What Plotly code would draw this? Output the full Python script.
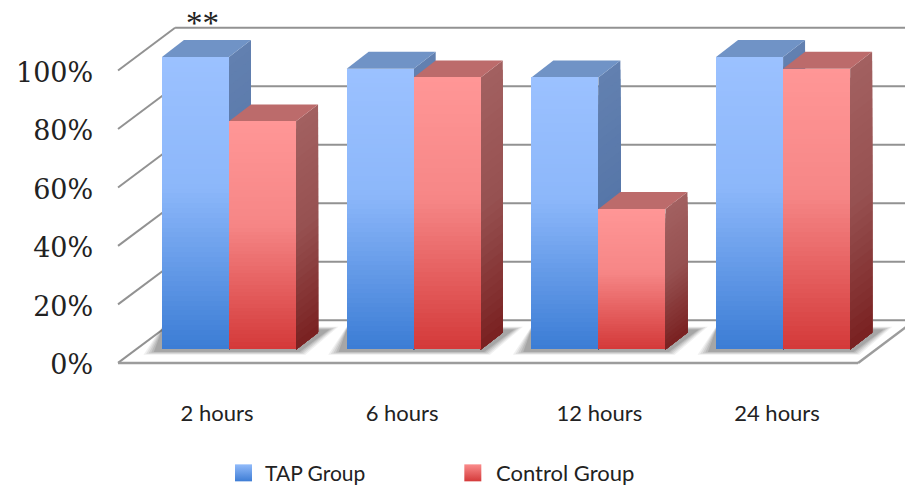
import plotly.graph_objects as go

# Data
groups = ["2 hours", "6 hours", "12 hours", "24 hours"]
group_pos = [0, 1, 2, 3]
label_pos = [-0.065, -0.063, 0.005, -0.033]
tap_values = [100, 96, 93, 100]
control_values = [78, 93, 48, 96]
y_ticks = [0, 20, 40, 60, 80, 100]
y_tick_text = ["0%", "20%", "40%", "60%", "80%", "100%"]

# Pseudo-3D projection, in axis units
BAR_W = 0.363
DX, DY = 0.119, 5.8          # bar depth
WALL_DX, WALL_DY = 0.309, 14.6
FLOOR_X0, FLOOR_X1 = -0.601, 3.406
FLOOR_Y0 = -4.6
STEPS = 60
SIDE_STEPS = 30


def mix(stops, t):
    for (a, ca), (b, cb) in zip(stops, stops[1:]):
        if t <= b:
            f = (t - a) / (b - a)
            return tuple(round(p + (q - p) * f) for p, q in zip(ca, cb))
    return stops[-1][1]


def rgb(c):
    return f"rgb({c[0]},{c[1]},{c[2]})"


TAP_FRONT = [(0, (155, 193, 255)), (0.45, (140, 183, 250)), (1, (60, 125, 213))]
CTRL_FRONT = [(0, (255, 150, 150)), (0.45, (246, 134, 134)), (1, (212, 58, 58))]
TAP_SIDE = [(0, (98, 128, 176)), (0.5, (86, 118, 168)), (1, (42, 88, 150))]
CTRL_SIDE = [(0, (162, 96, 96)), (0.5, (150, 80, 80)), (1, (122, 34, 34))]
TAP_TOP = "rgb(112,147,198)"
CTRL_TOP = "rgb(188,107,107)"
LINE = "#929292"


def poly(points, fill=None, line=None, width=0, layer="below"):
    path = "M " + " L ".join(f"{x:.4f},{y:.3f}" for x, y in points) + " Z"
    return dict(type="path", path=path, xref="x", yref="y", layer=layer,
                fillcolor=fill or "rgba(0,0,0,0)",
                line=dict(color=line or "rgba(0,0,0,0)", width=width))


def segment(x0, y0, x1, y1, color=LINE, width=2):
    return dict(type="line", xref="x", yref="y", layer="below",
                x0=x0, y0=y0, x1=x1, y1=y1, line=dict(color=color, width=width))


shapes = []

# Back wall gridlines and the left wall diagonals
for t in y_ticks:
    yf = FLOOR_Y0 + t
    shapes.append(segment(FLOOR_X0, yf, FLOOR_X0 + WALL_DX, yf + WALL_DY))
    shapes.append(segment(FLOOR_X0 + WALL_DX, yf + WALL_DY, FLOOR_X1 + WALL_DX, yf + WALL_DY))

# Floor edges
shapes.append(segment(FLOOR_X0, FLOOR_Y0, FLOOR_X1, FLOOR_Y0, "#9c9c9c", 2.5))
shapes.append(segment(FLOOR_X1, FLOOR_Y0, FLOOR_X1 + WALL_DX, FLOOR_Y0 + WALL_DY, "#9c9c9c", 2.5))

# Soft floor shadow around each group's footprint, built from nested translucent layers
for g in group_pos:
    xl, xr = g - BAR_W, g + BAR_W
    for grow, alpha in [(1.0, 0.08), (0.8, 0.10), (0.6, 0.12), (0.4, 0.14), (0.2, 0.16)]:
        low = -0.6 - 1.2 * grow
        high = 6.6 + 1.2 * grow
        shapes.append(poly([
            (xl - 0.03 - 0.07 * grow, low),
            (xr + 0.01 + 0.04 * grow, low),
            (xr + DX + 0.05 + 0.06 * grow, high),
            (xl, high),
        ], fill=f"rgba(70,70,70,{alpha})"))

# Depth faces: TAP first so that Control's top and side sit over it
for values, offset, side_stops, top_col in [
    (tap_values, -BAR_W, TAP_SIDE, TAP_TOP),
    (control_values, 0, CTRL_SIDE, CTRL_TOP),
]:
    for g, v in zip(group_pos, values):
        xl = g + offset
        xr = xl + BAR_W
        for k in range(SIDE_STEPS):
            h = v * (SIDE_STEPS - k) / SIDE_STEPS
            t = k / (SIDE_STEPS - 1)
            shapes.append(poly([(xr, 0), (xr + DX, DY), (xr + DX, h + DY), (xr, h)],
                               fill=rgb(mix(side_stops, t))))
        shapes.append(poly([(xl, v), (xr, v), (xr + DX, v + DY), (xl + DX, v + DY)], fill=top_col))

fig = go.Figure()

# Front faces: nested bars, tallest first, give the vertical gradient
for name, values, offset, stops in [
    ("TAP Group", tap_values, -BAR_W / 2, TAP_FRONT),
    ("Control Group", control_values, BAR_W / 2, CTRL_FRONT),
]:
    for k in range(STEPS):
        frac = (STEPS - k) / STEPS
        fig.add_trace(go.Bar(
            x=[g + offset for g in group_pos],
            y=[v * frac for v in values],
            width=BAR_W,
            marker=dict(color=rgb(mix(stops, k / (STEPS - 1))), line=dict(width=0)),
            name=name,
            showlegend=False,
            hoverinfo="skip",
        ))

# Key swatches with the same gradient as the bars
KEY_Y = -42.2
for x, c_top, c_bottom in [(0.0785, "rgb(146,187,250)", "rgb(62,125,213)"),
                           (1.32, "rgb(250,140,140)", "rgb(212,58,58)")]:
    fig.add_trace(go.Scatter(
        x=[x], y=[KEY_Y], mode="markers", showlegend=False, hoverinfo="skip",
        marker=dict(symbol="square", size=17, color=c_top, line=dict(width=0),
                    gradient=dict(type="vertical", color=c_bottom)),
    ))

annotations = [
    dict(x=0.185, y=KEY_Y, text="TAP Group", xref="x", yref="y", showarrow=False, xanchor="left",
         font=dict(family="Lato", size=21, color="#222222")),
    dict(x=1.435, y=KEY_Y, text="Control Group", xref="x", yref="y", showarrow=False, xanchor="left",
         font=dict(family="Lato", size=22, color="#222222")),
    dict(x=-0.145, y=111.5, text="**", xref="x", yref="y", showarrow=False,
         font=dict(family="Liberation Serif", size=33, color="#222222")),
]

fig.update_layout(
    width=905,
    height=486,
    margin=dict(l=0, r=0, t=0, b=0),
    paper_bgcolor="white",
    plot_bgcolor="white",
    barmode="overlay",
    bargap=0,
    showlegend=False,
    shapes=shapes,
    annotations=annotations,
    xaxis=dict(
        range=[-1.24, 3.66], domain=[0, 1], anchor="free", position=0.181,
        tickmode="array",
        tickvals=[g + d for g, d in zip(group_pos, label_pos)],
        ticktext=groups,
        showgrid=False, zeroline=False, showline=False, ticks="",
        tickfont=dict(family="Lato", size=22, color="#222222"),
    ),
    yaxis=dict(
        range=[-46.7, 119.5], domain=[0, 1], anchor="free", position=0.103,
        tickmode="array",
        tickvals=[t - 5.3 for t in y_ticks],
        ticktext=y_tick_text,
        showgrid=False, zeroline=False, showline=False, ticks="",
        tickfont=dict(family="DejaVu Serif", size=27, color="#222222"),
    ),
)

fig.write_html("out.html", config={"displayModeBar": False})
